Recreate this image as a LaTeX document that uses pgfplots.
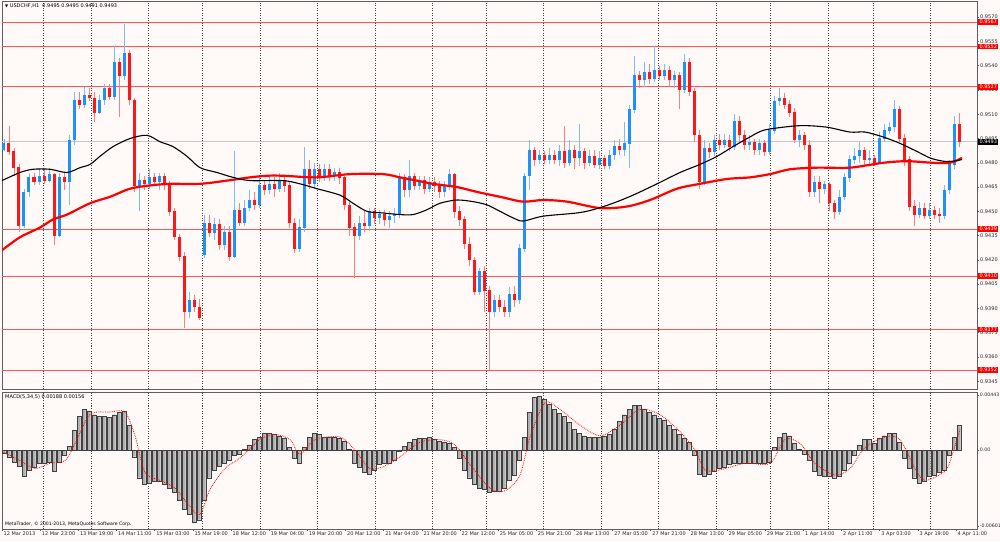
\documentclass[border=0pt]{standalone}
\usepackage{pgfplots}
\pgfplotsset{compat=1.18}
\usepackage{pgfplotstable}
\usepackage{fontspec}
\setmainfont{DejaVu Sans}
\definecolor{bg}{RGB}{255,250,248}
\definecolor{upbody}{RGB}{30,144,255}
\definecolor{upwick}{RGB}{125,186,255}
\definecolor{dnbody}{RGB}{255,22,22}
\definecolor{dnwick}{RGB}{255,125,125}
\definecolor{lvl}{RGB}{255,85,85}
\definecolor{frame}{RGB}{95,95,95}
\newcommand\tf{\fontsize{5}{6}\selectfont}
\pgfplotstableread{
x o h l c up
4 0.9488 0.9495 0.9487 0.9492 1
9 0.9492 0.9503 0.9485 0.9487 0
14 0.9487 0.9489 0.9472 0.9477 0
19 0.9477 0.9479 0.9437 0.9441 0
24 0.9441 0.9464 0.9440 0.9462 1
29 0.9462 0.9474 0.9459 0.9471 1
34 0.9471 0.9474 0.9466 0.9468 0
39 0.9468 0.9476 0.9466 0.9472 1
44 0.9472 0.9476 0.9467 0.9469 0
49 0.9469 0.9477 0.9468 0.9473 1
54 0.9473 0.9474 0.9429 0.9435 0
59 0.9435 0.9474 0.9434 0.9471 1
64 0.9471 0.9474 0.9463 0.9468 0
69 0.9468 0.9497 0.9454 0.9494 1
74 0.9494 0.9524 0.9491 0.9519 1
79 0.9519 0.9524 0.9513 0.9516 0
84 0.9516 0.9527 0.9514 0.9522 1
89 0.9522 0.9526 0.9518 0.9520 0
94 0.9520 0.9524 0.9505 0.9511 0
99 0.9511 0.9522 0.9510 0.9519 1
104 0.9519 0.9529 0.9516 0.9526 1
109 0.9526 0.9529 0.9519 0.9521 0
114 0.9521 0.9552 0.9519 0.9542 1
119 0.9542 0.9545 0.9508 0.9534 0
124 0.9534 0.9566 0.9531 0.9548 1
129 0.9548 0.9550 0.9516 0.9519 0
134 0.9519 0.9520 0.9462 0.9466 0
139 0.9466 0.9474 0.9450 0.9469 1
144 0.9469 0.9472 0.9463 0.9467 0
149 0.9467 0.9476 0.9464 0.9471 1
154 0.9471 0.9474 0.9466 0.9468 0
159 0.9468 0.9474 0.9463 0.9472 1
164 0.9472 0.9474 0.9463 0.9467 0
169 0.9467 0.9469 0.9447 0.9450 0
174 0.9450 0.9452 0.9432 0.9434 0
179 0.9434 0.9436 0.9419 0.9422 0
184 0.9422 0.9425 0.9378 0.9388 0
189 0.9388 0.9400 0.9384 0.9395 1
194 0.9395 0.9398 0.9388 0.9391 0
199 0.9391 0.9396 0.9383 0.9384 0
204 0.9423 0.9448 0.9421 0.9443 1
209 0.9443 0.9448 0.9434 0.9437 0
214 0.9437 0.9446 0.9432 0.9442 1
219 0.9442 0.9445 0.9426 0.9429 0
224 0.9429 0.9441 0.9426 0.9437 1
229 0.9437 0.9441 0.9419 0.9422 0
234 0.9422 0.9487 0.9421 0.9451 1
239 0.9451 0.9455 0.9441 0.9443 0
244 0.9443 0.9457 0.9441 0.9452 1
249 0.9452 0.9463 0.9450 0.9457 1
254 0.9457 0.9462 0.9451 0.9454 0
259 0.9454 0.9471 0.9452 0.9466 1
264 0.9466 0.9469 0.9460 0.9463 0
269 0.9463 0.9472 0.9461 0.9467 1
274 0.9467 0.9471 0.9459 0.9464 0
279 0.9464 0.9474 0.9462 0.9469 1
284 0.9469 0.9472 0.9462 0.9466 0
289 0.9466 0.9468 0.9440 0.9443 0
294 0.9443 0.9446 0.9424 0.9427 0
299 0.9427 0.9445 0.9425 0.9440 1
304 0.9440 0.9490 0.9437 0.9476 1
309 0.9476 0.9482 0.9464 0.9467 0
314 0.9467 0.9480 0.9464 0.9476 1
319 0.9476 0.9479 0.9468 0.9472 0
324 0.9472 0.9479 0.9469 0.9476 1
329 0.9476 0.9479 0.9469 0.9472 0
334 0.9472 0.9477 0.9469 0.9474 1
339 0.9474 0.9477 0.9467 0.9471 0
344 0.9471 0.9472 0.9451 0.9454 0
349 0.9454 0.9456 0.9435 0.9440 0
354 0.9440 0.9443 0.9409 0.9435 0
359 0.9435 0.9447 0.9432 0.9443 1
364 0.9443 0.9450 0.9437 0.9441 0
369 0.9441 0.9452 0.9438 0.9450 1
374 0.9450 0.9452 0.9442 0.9446 0
379 0.9446 0.9451 0.9442 0.9448 1
384 0.9448 0.9451 0.9441 0.9445 0
389 0.9445 0.9450 0.9440 0.9447 1
394 0.9447 0.9452 0.9443 0.9448 1
399 0.9448 0.9474 0.9446 0.9471 1
404 0.9471 0.9473 0.9459 0.9463 0
409 0.9463 0.9482 0.9459 0.9472 1
414 0.9472 0.9474 0.9463 0.9466 0
419 0.9466 0.9472 0.9463 0.9469 1
424 0.9469 0.9472 0.9461 0.9464 0
429 0.9464 0.9471 0.9462 0.9468 1
434 0.9468 0.9471 0.9462 0.9466 0
439 0.9466 0.9469 0.9458 0.9462 0
444 0.9462 0.9469 0.9459 0.9466 1
449 0.9466 0.9476 0.9463 0.9473 1
454 0.9473 0.9474 0.9446 0.9450 0
459 0.9450 0.9453 0.9441 0.9445 0
464 0.9445 0.9447 0.9427 0.9430 0
469 0.9430 0.9434 0.9416 0.9420 0
474 0.9420 0.9422 0.9398 0.9400 0
479 0.9400 0.9415 0.9398 0.9413 1
484 0.9413 0.9416 0.9388 0.9401 0
489 0.9401 0.9404 0.9352 0.9388 0
494 0.9388 0.9398 0.9385 0.9395 1
499 0.9395 0.9398 0.9388 0.9391 0
504 0.9391 0.9395 0.9385 0.9388 0
509 0.9388 0.9403 0.9385 0.9399 1
514 0.9399 0.9404 0.9391 0.9395 0
519 0.9395 0.9430 0.9393 0.9427 1
524 0.9427 0.9474 0.9425 0.9472 1
529 0.9472 0.9494 0.9463 0.9488 1
534 0.9488 0.9490 0.9478 0.9482 0
539 0.9482 0.9488 0.9479 0.9485 1
544 0.9485 0.9487 0.9479 0.9482 0
549 0.9482 0.9489 0.9479 0.9485 1
554 0.9485 0.9488 0.9479 0.9482 0
559 0.9482 0.9491 0.9478 0.9487 1
564 0.9487 0.9503 0.9477 0.9480 0
569 0.9480 0.9494 0.9478 0.9488 1
574 0.9488 0.9491 0.9476 0.9483 0
579 0.9483 0.9504 0.9478 0.9487 1
584 0.9487 0.9489 0.9476 0.9480 0
589 0.9480 0.9488 0.9478 0.9484 1
594 0.9484 0.9488 0.9477 0.9479 0
599 0.9479 0.9487 0.9476 0.9483 1
604 0.9483 0.9485 0.9476 0.9478 0
609 0.9478 0.9488 0.9476 0.9485 1
614 0.9485 0.9494 0.9482 0.9490 1
619 0.9490 0.9495 0.9485 0.9488 0
624 0.9488 0.9505 0.9484 0.9492 1
629 0.9492 0.9516 0.9477 0.9513 1
634 0.9513 0.9546 0.9511 0.9534 1
639 0.9534 0.9537 0.9526 0.9531 0
644 0.9531 0.9542 0.9527 0.9536 1
649 0.9536 0.9541 0.9529 0.9532 0
654 0.9532 0.9552 0.9530 0.9537 1
659 0.9537 0.9540 0.9531 0.9534 0
664 0.9534 0.9541 0.9531 0.9537 1
669 0.9537 0.9540 0.9527 0.9531 0
674 0.9531 0.9537 0.9526 0.9534 1
679 0.9534 0.9536 0.9513 0.9525 0
684 0.9525 0.9547 0.9523 0.9542 1
689 0.9542 0.9545 0.9521 0.9524 0
694 0.9524 0.9526 0.9493 0.9497 0
699 0.9497 0.9500 0.9464 0.9468 0
704 0.9468 0.9494 0.9466 0.9489 1
709 0.9489 0.9492 0.9483 0.9487 0
714 0.9487 0.9497 0.9484 0.9494 1
719 0.9494 0.9498 0.9488 0.9491 0
724 0.9491 0.9498 0.9489 0.9494 1
729 0.9494 0.9497 0.9487 0.9490 0
734 0.9490 0.9510 0.9488 0.9506 1
739 0.9506 0.9509 0.9493 0.9497 0
744 0.9497 0.9500 0.9488 0.9491 0
749 0.9491 0.9497 0.9488 0.9493 1
754 0.9493 0.9495 0.9485 0.9488 0
759 0.9488 0.9495 0.9485 0.9492 1
764 0.9492 0.9494 0.9484 0.9487 0
769 0.9487 0.9504 0.9485 0.9500 1
774 0.9500 0.9521 0.9498 0.9518 1
779 0.9518 0.9526 0.9515 0.9520 1
784 0.9520 0.9523 0.9513 0.9516 0
789 0.9516 0.9519 0.9508 0.9511 0
794 0.9511 0.9514 0.9492 0.9494 0
799 0.9494 0.9500 0.9490 0.9497 1
804 0.9497 0.9499 0.9488 0.9491 0
809 0.9491 0.9494 0.9459 0.9462 0
814 0.9462 0.9472 0.9459 0.9468 1
819 0.9468 0.9472 0.9455 0.9464 0
824 0.9464 0.9469 0.9461 0.9467 1
829 0.9467 0.9468 0.9450 0.9455 0
834 0.9455 0.9457 0.9445 0.9450 0
839 0.9450 0.9463 0.9448 0.9459 1
844 0.9459 0.9474 0.9457 0.9471 1
849 0.9471 0.9485 0.9468 0.9482 1
854 0.9482 0.9489 0.9479 0.9484 1
859 0.9484 0.9493 0.9480 0.9488 1
864 0.9488 0.9490 0.9478 0.9482 0
869 0.9482 0.9488 0.9479 0.9483 1
874 0.9483 0.9485 0.9478 0.9480 0
879 0.9480 0.9499 0.9479 0.9495 1
884 0.9495 0.9504 0.9493 0.9500 1
889 0.9500 0.9505 0.9498 0.9502 1
894 0.9502 0.9519 0.9499 0.9513 1
899 0.9513 0.9515 0.9493 0.9495 0
904 0.9495 0.9498 0.9478 0.9482 0
909 0.9482 0.9484 0.9450 0.9453 0
914 0.9453 0.9457 0.9441 0.9448 0
919 0.9448 0.9456 0.9446 0.9452 1
924 0.9452 0.9455 0.9445 0.9447 0
929 0.9447 0.9455 0.9445 0.9451 1
934 0.9451 0.9453 0.9445 0.9448 0
939 0.9448 0.9452 0.9443 0.9447 0
944 0.9447 0.9466 0.9445 0.9463 1
949 0.9463 0.9482 0.9461 0.9479 1
954 0.9479 0.9509 0.9476 0.9504 1
959 0.9504 0.9511 0.9490 0.9493 0
}\candles
\pgfplotstableread{
x m
4 -0.0002
9 -0.0005
14 -0.0009
19 -0.0012
24 -0.0020
29 -0.0015
34 -0.0013
39 -0.0010
44 -0.0010
49 -0.0009
54 -0.0016
59 -0.0009
64 -0.0004
69 0.0003
74 0.0015
79 0.0026
84 0.0031
89 0.0030
94 0.0027
99 0.0026
104 0.0026
109 0.0025
114 0.0027
119 0.0029
124 0.0030
129 0.0019
134 -0.0005
139 -0.0021
144 -0.0026
149 -0.0025
154 -0.0024
159 -0.0024
164 -0.0026
169 -0.0029
174 -0.0032
179 -0.0038
184 -0.0045
189 -0.0049
194 -0.0055
199 -0.0053
204 -0.0038
209 -0.0021
214 -0.0015
219 -0.0012
224 -0.0010
229 -0.0008
234 -0.0004
239 -0.0003
244 0.0001
249 0.0004
254 0.0008
259 0.0010
264 0.0013
269 0.0013
274 0.0012
279 0.0011
284 0.0009
289 0.0002
294 -0.0006
299 -0.0010
304 0.0002
309 0.0010
314 0.0013
319 0.0012
324 0.0010
329 0.0010
334 0.0010
339 0.0009
344 0.0007
349 0.0001
354 -0.0010
359 -0.0013
364 -0.0017
369 -0.0018
374 -0.0015
379 -0.0011
384 -0.0010
389 -0.0010
394 -0.0008
399 -0.0001
404 0.0003
409 0.0006
414 0.0008
419 0.0009
424 0.0009
429 0.0010
434 0.0008
439 0.0007
444 0.0006
449 0.0005
454 0.0002
459 -0.0006
464 -0.0015
469 -0.0021
474 -0.0026
479 -0.0029
484 -0.0030
489 -0.0032
494 -0.0031
499 -0.0031
504 -0.0029
509 -0.0023
514 -0.0019
519 -0.0008
524 0.0010
529 0.0029
534 0.0040
539 0.0041
544 0.0039
549 0.0035
554 0.0031
559 0.0028
564 0.0026
569 0.0021
574 0.0016
579 0.0013
584 0.0011
589 0.0010
594 0.0010
599 0.0010
604 0.0011
609 0.0012
614 0.0016
619 0.0022
624 0.0027
629 0.0031
634 0.0034
639 0.0034
644 0.0031
649 0.0029
654 0.0027
659 0.0024
664 0.0023
669 0.0019
674 0.0016
679 0.0012
684 0.0009
689 0.0006
694 -0.0004
699 -0.0018
704 -0.0020
709 -0.0018
714 -0.0016
719 -0.0014
724 -0.0013
729 -0.0011
734 -0.0010
739 -0.0010
744 -0.0010
749 -0.0010
754 -0.0010
759 -0.0010
764 -0.0010
769 -0.0009
774 0.0002
779 0.0010
784 0.0013
789 0.0011
794 0.0005
799 0.0001
804 -0.0003
809 -0.0008
814 -0.0016
819 -0.0019
824 -0.0020
829 -0.0020
834 -0.0021
839 -0.0020
844 -0.0015
849 -0.0010
854 -0.0004
859 0.0004
864 0.0008
869 0.0008
874 0.0005
879 0.0009
884 0.0011
889 0.0013
894 0.0013
899 0.0006
904 -0.0006
909 -0.0014
914 -0.0021
919 -0.0025
924 -0.0024
929 -0.0020
934 -0.0019
939 -0.0017
944 -0.0015
949 -0.0004
954 0.0010
959 0.0019
}\macd
\begin{document}
\begin{tikzpicture}
\path[use as bounding box] (0,0) rectangle (1000pt,541pt);
\fill[bg] (0,0) rectangle (1000pt,541pt);
% ---------------- price panel ----------------
\begin{axis}[
  at={(2pt,152pt)}, anchor=south west,
  scale only axis, width=975pt, height=388pt,
  xmin=2, xmax=977, ymin=0.93402, ymax=0.95800,
  axis line style={draw=frame, line width=0.8pt},
  xtick={43,91,148,202,260,317,375,432,486,543,601,658,716,770,828,873,930},
  xticklabels={}, xmajorgrids,
  major grid style={dash pattern=on 1pt off 1.5pt, black!75, line width=0.5pt},
  xtick style={draw=none},
  ytick={0.9345,0.9360,0.9375,0.9390,0.9405,0.9420,0.9435,0.9450,0.9465,0.9480,0.9495,0.9510,0.9525,0.9540,0.9555,0.9570},
  yticklabels={0.9345,0.9360,0.9375,0.9390,0.9405,0.9420,0.9435,0.9450,0.9465,0.9480,0.9495,0.9510,0.9525,0.9540,0.9555,0.9570},
  scaled y ticks=false,
  ytick pos=right, yticklabel pos=right, tick align=outside,
  major tick length=2pt, ytick style={draw=frame, line width=0.5pt},
  yticklabel style={font=\tf, inner sep=1pt, text=black!85},
]
% support / resistance levels
\addplot[lvl, line width=0.8pt, forget plot] coordinates {(2,0.9567) (977,0.9567)};
\addplot[lvl, line width=0.8pt, forget plot] coordinates {(2,0.9552) (977,0.9552)};
\addplot[lvl, line width=0.8pt, forget plot] coordinates {(2,0.9527) (977,0.9527)};
\addplot[lvl, line width=0.8pt, forget plot] coordinates {(2,0.9439) (977,0.9439)};
\addplot[lvl, line width=0.8pt, forget plot] coordinates {(2,0.9410) (977,0.9410)};
\addplot[lvl, line width=0.8pt, forget plot] coordinates {(2,0.9377) (977,0.9377)};
\addplot[lvl, line width=0.8pt, forget plot] coordinates {(2,0.9352) (977,0.9352)};
\addplot[black!22, line width=0.6pt, forget plot] coordinates {(2,0.9493) (977,0.9493)};
% candles: wicks (segments from low to high)
\addplot[upwick, line width=0.8pt, mark=none, forget plot,
  quiver={u=0, v=\thisrow{up}*(\thisrow{h}-\thisrow{l})}]
  table[x=x, y=l] {\candles};
\addplot[dnwick, line width=0.8pt, mark=none, forget plot,
  quiver={u=0, v=(1-\thisrow{up})*(\thisrow{h}-\thisrow{l})}]
  table[x=x, y=l] {\candles};
% candles: bodies (segments from min(open,close) to max(open,close))
\addplot[upbody, line width=3pt, mark=none, forget plot,
  quiver={u=0, v=\thisrow{up}*(abs(\thisrow{c}-\thisrow{o})+0.00002)}]
  table[x=x, y expr={min(\thisrow{o},\thisrow{c})-0.00001}] {\candles};
\addplot[dnbody, line width=3pt, mark=none, forget plot,
  quiver={u=0, v=(1-\thisrow{up})*(abs(\thisrow{c}-\thisrow{o})+0.00002)}]
  table[x=x, y expr={min(\thisrow{o},\thisrow{c})-0.00001}] {\candles};
% moving averages
\addplot[red, line width=2.2pt, smooth] coordinates {
(2,0.9426) (20,0.9434) (40,0.9440) (53,0.9445) (67,0.9448) (90,0.9455) (110,0.9459) (130,0.9464)
(150,0.9466) (170,0.9467) (200,0.9467) (227,0.9469) (250,0.9471) (267,0.9472) (283,0.9472)
(317,0.9471) (350,0.9473) (383,0.9473) (400,0.9471) (417,0.9469) (433,0.9467) (457,0.9465)
(477,0.9462) (500,0.9459) (523,0.9456) (543,0.9457) (567,0.9456) (600,0.9452) (627,0.9453)
(650,0.9457) (677,0.9464) (700,0.9467) (727,0.9470) (750,0.9471) (770,0.9473) (790,0.9476)
(817,0.9477) (850,0.9477) (883,0.9480) (907,0.9481) (933,0.9480) (950,0.9480) (962,0.9483)};
\addplot[black, line width=1.1pt, smooth] coordinates {
(2,0.9469) (20,0.9474) (33,0.9476) (50,0.9476) (67,0.9474) (80,0.9477) (90,0.9479) (100,0.9484)
(113,0.9490) (130,0.9495) (147,0.9497) (160,0.9493) (173,0.9490) (187,0.9484) (200,0.9477)
(217,0.9474) (233,0.9471) (250,0.9469) (283,0.9469) (300,0.9467) (317,0.9464) (340,0.9460)
(353,0.9455) (367,0.9450) (383,0.9449) (400,0.9448) (413,0.9448) (427,0.9451) (440,0.9455)
(457,0.9457) (473,0.9456) (487,0.9454) (500,0.9450) (513,0.9446) (523,0.9444) (543,0.9447)
(577,0.9449) (593,0.9451) (613,0.9455) (633,0.9460) (657,0.9467) (680,0.9474) (700,0.9479)
(717,0.9484) (733,0.9490) (750,0.9496) (763,0.9500) (783,0.9502) (803,0.9503) (827,0.9502)
(850,0.9499) (865,0.9499) (883,0.9496) (900,0.9492) (917,0.9487) (930,0.9483) (943,0.9481)
(953,0.9481) (962,0.9482)};
\node[anchor=north west, inner sep=0pt, font=\tf, xshift=3pt, yshift=-3pt] at (rel axis cs:0,1)
  {\fontsize{4}{5}\selectfont▼\tf\ USDCHF,H1\ \ 0.9495 0.9495 0.9491 0.9493};
\coordinate (L1) at (axis cs:977,0.9567);
\coordinate (L2) at (axis cs:977,0.9552);
\coordinate (L3) at (axis cs:977,0.9527);
\coordinate (L4) at (axis cs:977,0.9439);
\coordinate (L5) at (axis cs:977,0.9410);
\coordinate (L6) at (axis cs:977,0.9377);
\coordinate (L7) at (axis cs:977,0.9352);
\coordinate (LB) at (axis cs:977,0.9493);
\end{axis}
\foreach \n/\t in {L1/0.9567,L2/0.9552,L3/0.9527,L4/0.9439,L5/0.9410,L6/0.9377,L7/0.9352}{
  \node[anchor=west, fill=red, text=white, font=\tf, inner xsep=1.3pt, inner ysep=0.9pt, xshift=1pt] at (\n) {\t};
}
\node[anchor=west, fill=black, text=white, font=\tf, inner xsep=1.3pt, inner ysep=0.9pt, xshift=1pt] at (LB) {0.9493};
% ---------------- MACD panel ----------------
\begin{axis}[
  at={(2pt,12pt)}, anchor=south west,
  scale only axis, width=975pt, height=137pt,
  xmin=2, xmax=977, ymin=-0.00601, ymax=0.00443,
  axis line style={draw=frame, line width=0.8pt},
  xtick={2,40.2,78.3,116.5,154.6,192.8,231,269.1,307.3,345.4,383.6,421.8,459.9,498.1,536.2,574.4,612.6,650.7,688.9,727,765.2,803.4,841.5,879.7,917.8,956},
  xticklabels={12 Mar 2013,12 Mar 23:00,13 Mar 19:00,14 Mar 11:00,15 Mar 03:00,15 Mar 19:00,18 Mar 12:00,19 Mar 04:00,19 Mar 20:00,20 Mar 12:00,21 Mar 04:00,21 Mar 20:00,22 Mar 12:00,25 Mar 05:00,25 Mar 21:00,26 Mar 13:00,27 Mar 05:00,27 Mar 21:00,28 Mar 13:00,29 Mar 05:00,29 Mar 21:00,1 Apr 14:00,2 Apr 11:00,3 Apr 03:00,3 Apr 19:00,4 Apr 11:00},
  xtick pos=bottom, xticklabel pos=bottom,
  xticklabel style={font=\tf, anchor=north west, inner sep=1pt, xshift=0.5pt, text=black!85},
  extra x ticks={43,91,148,202,260,317,375,432,486,543,601,658,716,770,828,873,930},
  extra x tick labels={},
  extra x tick style={grid=major, tick style={draw=none}},
  major grid style={dash pattern=on 1pt off 1.5pt, black!75, line width=0.5pt},
  ytick={-0.0058,0,0.0042},
  yticklabels={-0.00601,0.00,0.00443},
  scaled y ticks=false,
  ytick pos=right, yticklabel pos=right, tick align=outside,
  major tick length=2pt, tick style={draw=frame, line width=0.5pt},
  yticklabel style={font=\fontsize{4.7}{5.5}\selectfont, inner sep=0.6pt, text=black!85},
]
\addplot[ybar, bar width=3.4pt, fill=gray!62, draw=black!75, line width=0.35pt, forget plot] table[x=x, y=m] {\macd};
\addplot[red, densely dotted, line width=0.8pt, smooth] coordinates {
(2,-0.0001) (20,-0.0008) (35,-0.0014) (50,-0.0010) (65,-0.0008) (75,0.0005) (90,0.0027) (110,0.0029)
(125,0.0029) (135,0.0011) (145,-0.0017) (160,-0.0023) (175,-0.0029) (190,-0.0043) (200,-0.0049)
(210,-0.0030) (225,-0.0014) (240,-0.0006) (260,0.0008) (275,0.0012) (290,0.0008) (300,-0.0003)
(315,0.0008) (340,0.0010) (355,0.0000) (370,-0.0014) (385,-0.0012) (400,-0.0005) (420,0.0006)
(440,0.0008) (455,0.0004) (470,-0.0011) (490,-0.0029) (505,-0.0031) (520,-0.0019) (530,0.0010)
(545,0.0036) (560,0.0031) (580,0.0019) (600,0.0011) (620,0.0019) (640,0.0031) (660,0.0027)
(680,0.0014) (695,0.0000) (705,-0.0015) (720,-0.0015) (745,-0.0010) (770,-0.0010) (785,0.0008)
(800,0.0005) (815,-0.0010) (835,-0.0019) (850,-0.0014) (865,0.0002) (885,0.0010) (900,0.0008)
(915,-0.0014) (925,-0.0023) (945,-0.0016) (952,-0.0004) (960,0.0016)};
\node[anchor=north west, inner sep=0pt, font=\tf, xshift=3pt, yshift=-3pt] at (rel axis cs:0,1)
  {MACD(5,34,5) 0.00188 0.00156};
\node[anchor=south west, inner sep=0pt, font=\fontsize{4.6}{5}\selectfont, xshift=3pt, yshift=2pt] at (rel axis cs:0,0)
  {MetaTrader, © 2001-2013, MetaQuotes Software Corp.};
\end{axis}
\end{tikzpicture}
\end{document}
